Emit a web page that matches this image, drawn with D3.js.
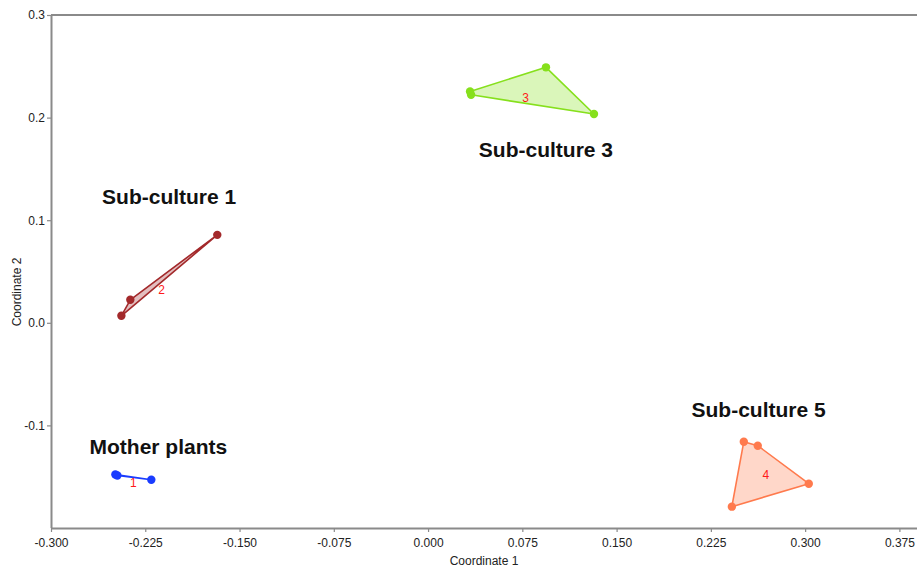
<!DOCTYPE html>
<html><head><meta charset="utf-8">
<script src="https://cdn.jsdelivr.net/npm/d3@7"></script>
<style>
body{margin:0;background:#fff;}
svg{display:block;}
</style></head>
<body>
<svg id="chart" width="917" height="570"></svg>
<script>
// Data
const groupNames = ["Mother plants", "Sub-culture 1", "Sub-culture 3", "Sub-culture 5"];
const groupNumbers = ["1", "2", "3", "4"];
const groupColors = ["#1a3cff", "#a3292b", "#86e01c", "#ff7a4d"];
const motherX = [-0.2488, -0.2472, -0.2202];
const motherY = [-0.1478, -0.1488, -0.1529];
const sub1X = [-0.2440, -0.2369, -0.1677];
const sub1Y = [0.0068, 0.0224, 0.0857];
const sub3X = [0.0334, 0.0342, 0.0938, 0.1320];
const sub3Y = [0.2255, 0.2222, 0.2490, 0.2035];
const sub5X = [0.2512, 0.2623, 0.3029, 0.2417];
const sub5Y = [-0.1159, -0.1198, -0.1568, -0.1792];
const nameLabelX = [-0.2146, -0.2060, 0.0938, 0.2630];
const nameLabelY = [-0.1276, 0.1160, 0.1616, -0.0915];
const xTicks = [-0.300, -0.225, -0.150, -0.075, 0.000, 0.075, 0.150, 0.225, 0.300, 0.375];
const yTicks = [-0.1, 0.0, 0.1, 0.2, 0.3];

const groupsX = [motherX, sub1X, sub3X, sub5X];
const groupsY = [motherY, sub1Y, sub3Y, sub5Y];

const svg = d3.select("#chart");
const mLeft = 51, mTop = 15, mBottom = 528, mRight = 917;
const x = d3.scaleLinear().domain([-0.3, 0.389]).range([mLeft, mRight]);
const y = d3.scaleLinear().domain([-0.2, 0.3]).range([mBottom, mTop]);

const axisColor = "#8a8a8a";
const tickFont = "'Liberation Sans Narrow', 'Arial Narrow', 'Liberation Sans', sans-serif";
const hy = f => v => f(v).replace("\u2212", "-");

// frame line on top
svg.append("line").attr("x1", mLeft).attr("x2", mRight).attr("y1", mTop).attr("y2", mTop)
  .attr("stroke", axisColor).attr("stroke-width", 2);

const xAxis = svg.append("g").attr("transform", `translate(0,${mBottom})`)
  .call(d3.axisBottom(x).tickValues(xTicks).tickFormat(hy(d3.format(".3f"))).tickSize(4).tickSizeOuter(0));
const yAxis = svg.append("g").attr("transform", `translate(${mLeft},0)`)
  .call(d3.axisLeft(y).tickValues(yTicks).tickFormat(hy(d3.format(".1f"))).tickSize(4).tickSizeOuter(0));
[xAxis, yAxis].forEach(g => {
  g.select(".domain").attr("stroke", axisColor).attr("stroke-width", 2);
  g.selectAll(".tick line").attr("stroke", axisColor).attr("stroke-width", 1.2);
  g.selectAll(".tick text").attr("fill", "#222").style("font-family", tickFont).style("font-size", "12px");
});
xAxis.select(".domain").attr("d", `M${mLeft},0.5H${mRight+5}`);
yAxis.select(".domain").attr("d", `M0.5,${mTop}V${mBottom}`);
yAxis.selectAll(".tick text").attr("x", -6);
xAxis.selectAll(".tick text").attr("y", 10);

// axis titles
svg.append("text").attr("x", 484).attr("y", 565).attr("text-anchor", "middle")
  .style("font-family", tickFont).style("font-size", "12px").attr("fill", "#222").text("Coordinate 1");
svg.append("text").attr("transform", "translate(21,292) rotate(-90)").attr("text-anchor", "middle")
  .style("font-family", tickFont).style("font-size", "12px").attr("fill", "#222").text("Coordinate 2");

// groups
groupsX.forEach((gx, i) => {
  const pts = gx.map((v, j) => [x(v), y(groupsY[i][j])]);
  const col = groupColors[i];
  const hull = d3.polygonHull(pts) || pts;
  const g = svg.append("g");
  g.append("path").attr("d", "M" + hull.map(p => p.join(",")).join("L") + "Z")
    .attr("fill", col).attr("fill-opacity", 0.3)
    .attr("stroke", col).attr("stroke-width", 1.6).attr("stroke-linejoin", "round");
  g.selectAll("circle").data(pts).join("circle")
    .attr("cx", d => d[0]).attr("cy", d => d[1]).attr("r", 4.2).attr("fill", col);
  const mx = d3.mean(pts, d => d[0]), my = d3.mean(pts, d => d[1]);
  g.append("text").attr("x", mx + 2).attr("y", my + 10)
    .style("font-family", tickFont).style("font-size", "12px").attr("fill", "#ff1a1a")
    .text(groupNumbers[i]);
  svg.append("text").attr("x", x(nameLabelX[i])).attr("y", y(nameLabelY[i]))
    .attr("text-anchor", "middle")
    .style("font-family", "'Liberation Sans', Arial, sans-serif").style("font-weight", "bold")
    .style("font-size", "21px").attr("fill", "#111").text(groupNames[i]);
});
</script>
</body></html>
